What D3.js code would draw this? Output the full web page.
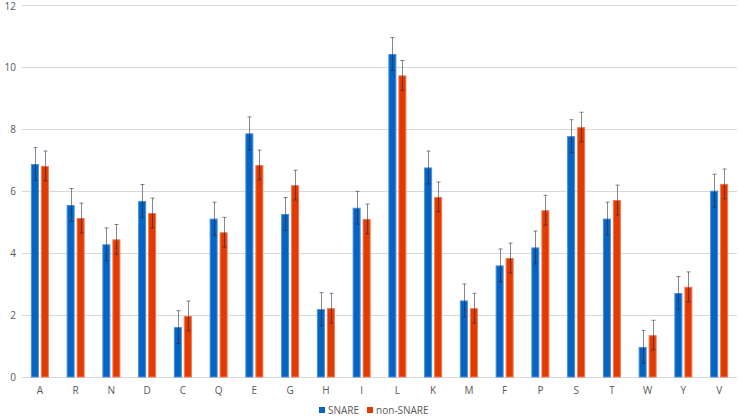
<!DOCTYPE html>
<html>
<head>
<meta charset="utf-8">
<script src="https://cdn.jsdelivr.net/npm/d3@7"></script>
<style>
  html, body { margin: 0; padding: 0; background: #fff; }
  svg { display: block; font-family: "Open Sans", "Noto Sans", sans-serif; }
</style>
</head>
<body>
<svg id="chart" width="739" height="416"></svg>
<script>
const categories = ["A","R","N","D","C","Q","E","G","H","I","L","K","M","F","P","S","T","W","Y","V"];
const seriesNames = ["SNARE", "non-SNARE"];
const snare    = [6.87,5.55,4.28,5.68,1.61,5.11,7.86,5.26,2.19,5.46,10.42,6.76,2.47,3.60,4.18,7.77,5.11,0.97,2.71,6.01];
const nonSnare = [6.81,5.13,4.44,5.29,1.97,4.67,6.84,6.19,2.22,5.10,9.73,5.81,2.22,3.84,5.38,8.06,5.71,1.35,2.91,6.23];
const errors = [0.53, 0.48];
const yTicks = [0,2,4,6,8,10,12];
const colors = ["#0563C1", "#E23A00"];
const strokes = ["#4A8FD8", "#EE7A50"];

const svg = d3.select("#chart");
const margin = {left: 22, right: 2, top: 5, bottom: 39};
const W = 739, H = 416;

const x = d3.scaleBand().domain(categories).range([margin.left, W - margin.right]).paddingInner(0).paddingOuter(0);
const y = d3.scaleLinear().domain([0, 12]).range([H - margin.bottom, margin.top]);

// gridlines
svg.append("g").selectAll("line").data(yTicks).join("line")
  .attr("x1", margin.left).attr("x2", W - margin.right)
  .attr("y1", d => Math.round(y(d)) + 0.5).attr("y2", d => Math.round(y(d)) + 0.5)
  .attr("stroke", "#d9d9d9").attr("stroke-width", 1);

// y axis labels
const yAxis = d3.axisLeft(y).tickValues(yTicks).tickSize(0).tickPadding(0);
const gy = svg.append("g").attr("transform", `translate(${margin.left - 6},0)`).call(yAxis);
gy.select(".domain").remove();
gy.selectAll("text").attr("fill", "#595959").style("font-size", "10px").style("font-family", "'Open Sans', sans-serif")
  .attr("dy", d => d === 12 ? "0.45em" : "0.32em");

// x axis labels
const xAxis = d3.axisBottom(x).tickSize(0).tickPadding(0);
const gx = svg.append("g").attr("transform", `translate(0,${H - margin.bottom + 10})`).call(xAxis);
gx.select(".domain").remove();
gx.selectAll("text").attr("fill", "#595959").style("font-size", "10px").style("font-family", "'Open Sans', sans-serif");

const xs = d3.scaleBand().domain([0,1]).range([0, 18]).paddingInner(0.2);
const barW = 8;
const data = [snare, nonSnare];

data.forEach((vals, si) => {
  const g = svg.append("g");
  g.selectAll("rect").data(vals).join("rect")
    .attr("x", (d, i) => x(categories[i]) + x.bandwidth() / 2 - 9 + xs(si) + 0.5)
    .attr("y", d => y(d) + 0.5)
    .attr("width", barW - 1)
    .attr("height", d => y(0) - y(d) - 0.5)
    .attr("fill", colors[si])
    .attr("stroke", strokes[si])
    .attr("stroke-width", 1);
});

data.forEach((vals, si) => {
  const e = errors[si];
  const g = svg.append("g").attr("stroke", "#1d2440").attr("stroke-opacity", 0.55).attr("stroke-width", 1).attr("fill", "none");
  vals.forEach((d, i) => {
    const cx = Math.round(x(categories[i]) + x.bandwidth() / 2 - 9 + xs(si) + barW / 2) + 0.5;
    const yt = y(d + e), yb = y(d - e);
    g.append("line").attr("x1", cx).attr("x2", cx).attr("y1", yt).attr("y2", yb);
    g.append("line").attr("x1", cx - 2).attr("x2", cx + 2).attr("y1", yt).attr("y2", yt);
    g.append("line").attr("x1", cx - 2).attr("x2", cx + 2).attr("y1", yb).attr("y2", yb);
  });
});

// legend
const legend = svg.append("g").attr("transform", "translate(319,407)");
const legX = [0, 48];
seriesNames.forEach((name, i) => {
  const lg = legend.append("g").attr("transform", `translate(${legX[i]},0)`);
  lg.append("rect").attr("x", 0).attr("y", 0).attr("width", 6).attr("height", 6).attr("fill", colors[i]);
  lg.append("text").attr("x", 9).attr("y", 6.5).text(name)
    .attr("fill", "#595959").style("font-size", "10px");
});
</script>
</body>
</html>
